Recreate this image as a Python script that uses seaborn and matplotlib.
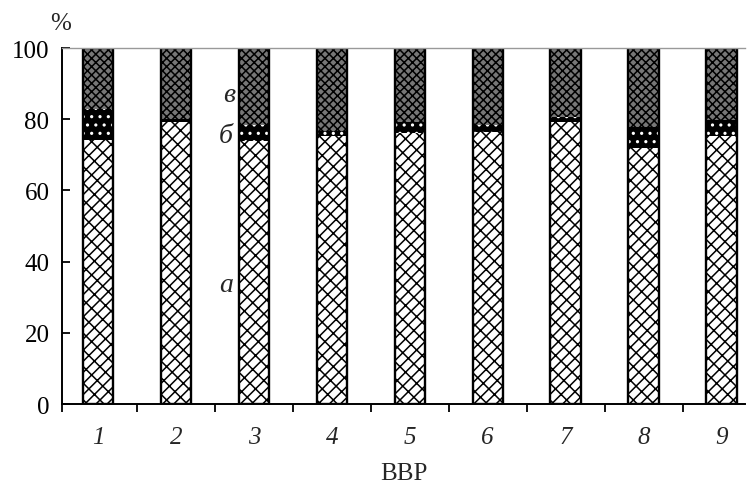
import matplotlib
matplotlib.use('Agg')
import matplotlib.pyplot as plt
import seaborn as sns
import pandas as pd
import numpy as np

groups = ['1', '2', '3', '4', '5', '6', '7', '8', '9']
seg_a = [74.2, 79.1, 74.0, 75.2, 76.0, 76.5, 79.1, 71.8, 75.4]
seg_b = [8.7, 1.0, 4.4, 1.6, 3.1, 2.0, 1.4, 5.9, 4.4]
seg_c = [17.1, 19.9, 21.6, 23.2, 20.9, 21.5, 19.5, 22.3, 20.2]
yticks = [0, 20, 40, 60, 80, 100]

df = pd.DataFrame({'group': groups, 'a': seg_a, 'b': seg_b, 'c': seg_c})
df['ab'] = df['a'] + df['b']
df['abc'] = df['ab'] + df['c']

sns.set_theme(style='ticks')
plt.rcParams['font.family'] = ['Liberation Serif', 'DejaVu Serif']
plt.rcParams['hatch.linewidth'] = 1.1

fig = plt.figure(figsize=(7.49, 4.85), dpi=100)
ax = fig.add_axes([62/749, 1-405/485, (745-62)/749, (405-49)/485])

W = 0.39
sns.barplot(data=df, x='group', y='abc', color='#777777', saturation=1, width=W,
            errorbar=None, ax=ax, edgecolor='black', linewidth=0, hatch='xxxx')
sns.barplot(data=df, x='group', y='ab', color='black', saturation=1, width=W,
            errorbar=None, ax=ax, edgecolor='white', linewidth=0, hatch='..')
sns.barplot(data=df, x='group', y='a', color='white', saturation=1, width=W,
            errorbar=None, ax=ax, edgecolor='black', linewidth=0, hatch='///\\\\')
sns.barplot(data=df, x='group', y='abc', width=W, errorbar=None, ax=ax,
            fill=False, edgecolor='black', linewidth=1.7, color='black')

FS = 18
ax.set_ylim(0, 100)
ax.set_xlim(-0.46, 8.3)
ax.set_yticks(yticks)
ax.set_yticklabels([str(v) for v in yticks], fontsize=FS)
ax.tick_params(axis='y', direction='in', length=6, width=1.3, pad=9, colors='black')
ax.set_xticks(range(len(groups)))
ax.set_xticklabels(groups, fontsize=FS, fontstyle='italic')
ax.tick_params(axis='x', which='major', length=0, pad=16)
ax.set_xticks([-0.46] + [i + 0.5 for i in range(len(groups) - 1)], minor=True)
ax.tick_params(axis='x', which='minor', direction='out', length=6, width=1.3, colors='black')

ax.spines['right'].set_visible(False)
ax.spines['top'].set_color('#999999')
ax.spines['top'].set_linewidth(1.0)
for s in ['left', 'bottom']:
    ax.spines[s].set_color('black')
    ax.spines[s].set_linewidth(1.4)

ax.set_xlabel('ВВР', fontsize=FS, labelpad=10)
ax.set_ylabel('')
ax.text(-0.48, 104, '%', fontsize=FS, ha='center', va='bottom', clip_on=False)
ax.text(1.69, 87, 'в', fontsize=20, fontstyle='italic', ha='center', va='center')
ax.text(1.64, 75.3, 'б', fontsize=20, fontstyle='italic', ha='center', va='center')
ax.text(1.64, 33.7, 'а', fontsize=20, fontstyle='italic', ha='center', va='center')

fig.savefig('out.png', dpi=100)
